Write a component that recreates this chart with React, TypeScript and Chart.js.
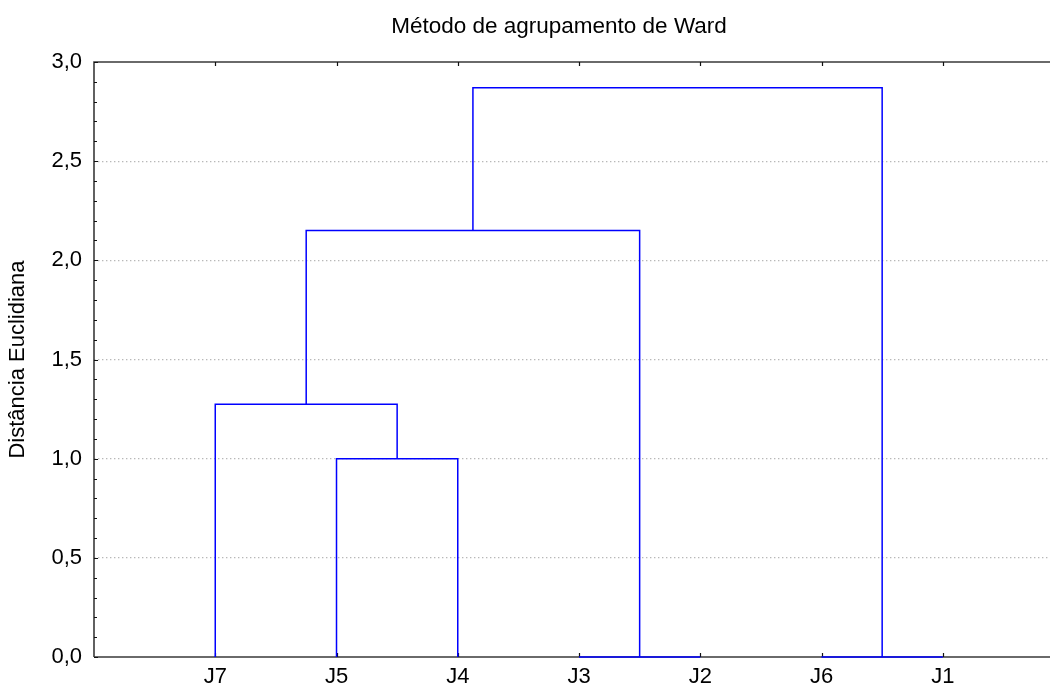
import React, { useEffect, useRef } from "react";
import { Chart, registerables } from "chart.js";

Chart.register(...registerables);

// Leaves of the tree, in drawing order
const leaves = ["J7", "J5", "J4", "J3", "J2", "J6", "J1"];
// Each merge joins node A with node B at a given height.
// Nodes 0..6 are the leaves; merge k creates node 7 + k.
const mergeA = [3, 5, 1, 0, 10, 11];
const mergeB = [4, 6, 2, 9, 7, 8];
const mergeHeight = [0.0, 0.0, 1.0, 1.275, 2.15, 2.87];

const yMin = 0;
const yMax = 3;
const yMajorStep = 0.5;
const yMinorStep = 0.1;

const titleText = "Método de agrupamento de Ward";
const yTitleText = "Distância Euclidiana";

const FONT = "'Liberation Sans', Arial, Helvetica, sans-serif";
const LINE_BLUE = "#0000ff";
const FRAME = "#3a3a3a";

// The plot runs past the visible right edge, as in the original layout
const CANVAS_W = 1120;
const X_MAX = 8.445;

function buildSegments() {
  const pos: number[] = leaves.map((_, i) => i + 1);
  const height: number[] = leaves.map(() => 0);
  const segments: { x: number; y: number }[][] = [];
  mergeA.forEach((a, k) => {
    const b = mergeB[k];
    const h = mergeHeight[k];
    segments.push([
      { x: pos[a], y: height[a] },
      { x: pos[a], y: h },
      { x: pos[b], y: h },
      { x: pos[b], y: height[b] },
    ]);
    pos.push((pos[a] + pos[b]) / 2);
    height.push(h);
  });
  return segments;
}

// Frame around the plot plus inward-pointing ticks
const framePlugin = {
  id: "frameTicks",
  beforeDatasetsDraw(chart: any) {
    const { ctx, chartArea } = chart;
    const { left, right, top, bottom } = chartArea;
    const xs = chart.scales.x;
    const ys = chart.scales.y;
    ctx.save();
    ctx.strokeStyle = FRAME;
    ctx.lineWidth = 1.6;
    ctx.beginPath();
    ctx.moveTo(left, bottom);
    ctx.lineTo(left, top);
    ctx.lineTo(right, top);
    ctx.lineTo(right, bottom);
    ctx.lineTo(left, bottom);
    ctx.stroke();

    ctx.lineWidth = 1.2;
    ctx.strokeStyle = "#111";
    ctx.beginPath();
    const n = Math.round((yMax - yMin) / yMinorStep);
    for (let i = 0; i <= n; i++) {
      const v = yMin + i * yMinorStep;
      const py = Math.round(ys.getPixelForValue(v)) + 0.5;
      const isMajor = Math.abs(v / yMajorStep - Math.round(v / yMajorStep)) < 1e-6;
      const len = isMajor ? 4 : 3;
      ctx.moveTo(left, py);
      ctx.lineTo(left + len, py);
      ctx.moveTo(right, py);
      ctx.lineTo(right - len, py);
    }
    leaves.forEach((_, i) => {
      const px = Math.round(xs.getPixelForValue(i + 1)) + 0.5;
      ctx.moveTo(px, bottom);
      ctx.lineTo(px, bottom - 4);
      ctx.moveTo(px, top);
      ctx.lineTo(px, top + 4);
    });
    ctx.stroke();
    ctx.restore();
  },
};

export default function App() {
  const canvasRef = useRef<HTMLCanvasElement | null>(null);

  useEffect(() => {
    const canvas = canvasRef.current;
    if (!canvas) return;
    const segments = buildSegments();
    const chart = new Chart(canvas, {
      type: "scatter",
      data: {
        datasets: segments.map((pts) => ({
          data: pts,
          showLine: true,
          borderColor: LINE_BLUE,
          backgroundColor: LINE_BLUE,
          borderWidth: 1.5,
          pointRadius: 0,
          tension: 0,
          clip: false as any,
        })),
      },
      options: {
        responsive: false,
        animation: false,
        devicePixelRatio: 1,
        layout: { padding: { left: 0, right: 2, top: 0, bottom: 0 } },
        plugins: {
          legend: { display: false },
          tooltip: { enabled: false },
          title: {
            display: true,
            text: titleText,
            color: "#000",
            font: { family: FONT, size: 22.5, weight: "normal" },
            padding: { top: 13.5, bottom: 21.5 },
          },
        },
        scales: {
          x: {
            type: "linear",
            min: 0,
            max: X_MAX,
            afterBuildTicks: (scale: any) => {
              scale.ticks = leaves.map((_, i) => ({ value: i + 1 }));
            },
            afterFit: (scale: any) => {
              scale.height = 29;
            },
            grid: { display: false, drawTicks: false },
            border: { display: false },
            ticks: {
              autoSkip: false,
              maxRotation: 0,
              padding: 7,
              color: "#000",
              font: { family: FONT, size: 22 },
              callback: (v: any) => leaves[Math.round(v) - 1] ?? "",
            },
          },
          y: {
            type: "linear",
            min: yMin,
            max: yMax,
            afterFit: (scale: any) => {
              scale.width = 94;
            },
            grid: {
              drawTicks: false,
              lineWidth: 1.2,
              color: (ctx: any) => {
                const v = ctx.tick ? ctx.tick.value : 0;
                return v <= yMin || v >= yMax ? "rgba(0,0,0,0)" : "#b8b8b8";
              },
            },
            border: { display: false, dash: [1.4, 2.6] },
            ticks: {
              stepSize: yMajorStep,
              padding: 12,
              color: "#000",
              font: { family: FONT, size: 22 },
              callback: (v: any) => Number(v).toFixed(1).replace(".", ","),
            },
            title: {
              display: true,
              text: yTitleText,
              color: "#000",
              font: { family: FONT, size: 22 },
              padding: { top: 4.8, bottom: 0 },
            },
          },
        },
      },
      plugins: [framePlugin],
    });
    return () => chart.destroy();
  }, []);

  return (
    <div
      style={{
        position: "fixed",
        left: 0,
        top: 0,
        width: 1050,
        height: 686,
        overflow: "hidden",
        background: "#fff",
      }}
    >
      <canvas ref={canvasRef} width={CANVAS_W} height={686} style={{ display: "block" }} />
    </div>
  );
}
